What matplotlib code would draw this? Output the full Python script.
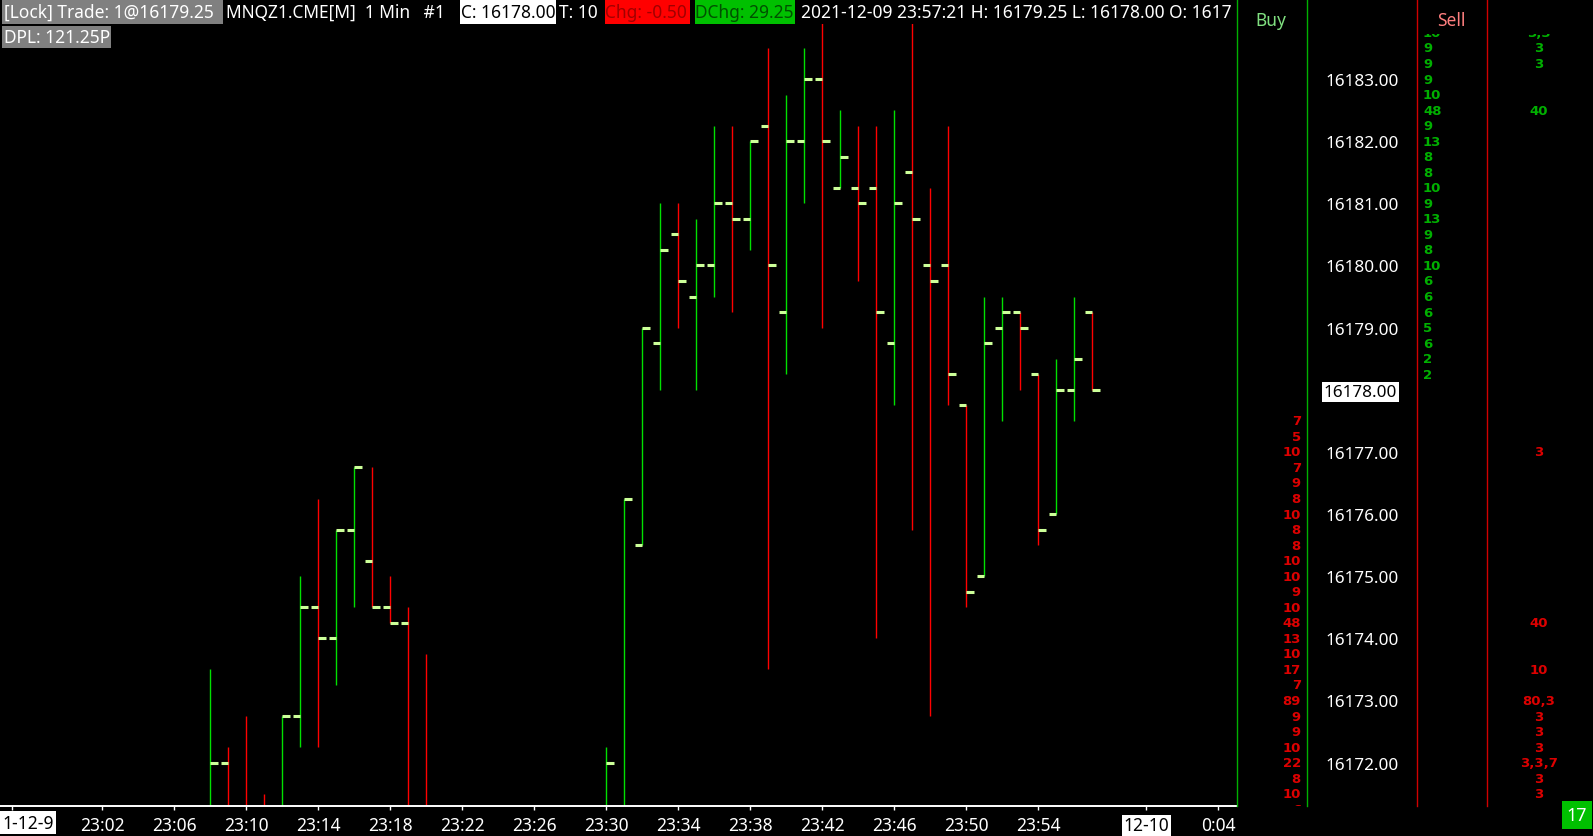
import matplotlib.pyplot as plt
from matplotlib.patches import Rectangle
from matplotlib.transforms import ScaledTranslation

plt.rcParams['font.family'] = ['Noto Sans', 'DejaVu Sans']

W, H, DPI = 1593, 837, 100

# MNQZ1 1-minute bars, x = minutes after 23:00 (2021-12-09)
minute = [8, 9, 10, 11, 12, 13, 14, 15, 16, 17, 18, 19, 20,
          30, 31, 32, 33, 34, 35, 36, 37, 38, 39, 40, 41, 42, 43,
          44, 45, 46, 47, 48, 49, 50, 51, 52, 53, 54, 55, 56, 57]
bar_open = [16171.0, 16172.0, 16171.0, 16171.25, 16170.75, 16172.75, 16174.5, 16174.0, 16175.75, 16175.25, 16174.5, 16174.25, 16171.0,
            16171.0, 16171.0, 16175.5, 16178.75, 16180.5, 16179.5, 16180.0, 16181.0, 16180.75, 16182.25, 16179.25, 16182.0, 16183.0, 16181.25,
            16181.25, 16181.25, 16178.75, 16181.5, 16180.0, 16180.0, 16177.75, 16175.0, 16179.0, 16179.25, 16178.25, 16176.0, 16178.0, 16179.25]
bar_high = [16173.5, 16172.25, 16172.75, 16171.5, 16172.75, 16175.0, 16176.25, 16175.75, 16176.75, 16176.75, 16175.0, 16174.5, 16173.75,
            16172.25, 16176.25, 16179.0, 16181.0, 16181.0, 16180.75, 16182.25, 16182.25, 16182.0, 16183.5, 16182.75, 16183.5, 16184.25, 16182.5,
            16182.25, 16182.25, 16182.5, 16184.25, 16181.25, 16182.25, 16177.75, 16179.5, 16179.5, 16179.25, 16178.25, 16178.5, 16179.5, 16179.25]
bar_low = [16170.5, 16170.75, 16170.25, 16170.5, 16170.5, 16172.25, 16172.25, 16173.25, 16174.5, 16174.5, 16174.25, 16170.75, 16170.25,
           16170.75, 16170.75, 16175.5, 16178.0, 16179.0, 16178.0, 16179.5, 16179.25, 16180.25, 16173.5, 16178.25, 16181.0, 16179.0, 16181.25,
           16179.75, 16174.0, 16177.75, 16175.75, 16172.75, 16177.75, 16174.5, 16175.0, 16177.5, 16178.0, 16175.5, 16176.0, 16177.5, 16178.0]
bar_close = [16172.0, 16171.0, 16170.5, 16170.75, 16172.75, 16174.5, 16174.0, 16175.75, 16176.75, 16174.5, 16174.25, 16171.0, 16170.5,
             16172.0, 16176.25, 16179.0, 16180.25, 16179.75, 16180.0, 16181.0, 16180.75, 16182.0, 16180.0, 16182.0, 16183.0, 16182.0, 16181.75,
             16181.0, 16179.25, 16181.0, 16180.75, 16179.75, 16178.25, 16174.75, 16178.75, 16179.25, 16179.0, 16175.75, 16178.0, 16178.5, 16178.0]

tick_min = [2, 6, 10, 14, 18, 22, 26, 30, 34, 38, 42, 46, 50, 54, 60, 64]
tick_lbl = ['23:02', '23:06', '23:10', '23:14', '23:18', '23:22', '23:26', '23:30',
            '23:34', '23:38', '23:42', '23:46', '23:50', '23:54', '12-10', '0:04']

price_levels = [16183.0, 16182.0, 16181.0, 16180.0, 16179.0, 16177.0, 16176.0,
                16175.0, 16174.0, 16173.0, 16172.0]
last_price = 16178.0

# volume ladder
buy_prices = [16183.75, 16183.5, 16183.25, 16183.0, 16182.75, 16182.5, 16182.25, 16182.0,
              16181.75, 16181.5, 16181.25, 16181.0, 16180.75, 16180.5, 16180.25, 16180.0,
              16179.75, 16179.5, 16179.25, 16179.0, 16178.75, 16178.5, 16178.25]
buy_vol = [10, 9, 9, 9, 10, 48, 9, 13, 8, 8, 10, 9, 13, 9, 8, 10, 6, 6, 6, 5, 6, 2, 2]
sell_prices = [16177.5, 16177.25, 16177.0, 16176.75, 16176.5, 16176.25, 16176.0, 16175.75,
               16175.5, 16175.25, 16175.0, 16174.75, 16174.5, 16174.25, 16174.0, 16173.75,
               16173.5, 16173.25, 16173.0, 16172.75, 16172.5, 16172.25, 16172.0, 16171.75,
               16171.5, 16171.25]
sell_vol = [7, 5, 10, 7, 9, 8, 10, 8, 8, 10, 10, 9, 10, 48, 13, 10, 17, 7, 89, 9, 9, 10, 22, 8, 10, 6]
big_buy_prices = [16183.75, 16183.5, 16183.25, 16182.5]
big_buy = ['3,3', '3', '3', '40']
big_sell_prices = [16177.0, 16174.25, 16173.5, 16173.0, 16172.75, 16172.5, 16172.25,
                   16172.0, 16171.75, 16171.5]
big_sell = ['3', '40', '10', '80,3', '3', '3', '3', '3,3,7', '3', '3']

# pixel calibration of the price scale (16183 at y=80, 62.15 px per point)
def price_at(py):
    return 16183.0 - (py - 80) / 62.15

UP, DN, TICKC = '#00e000', '#ff0000', '#ccff99'
LADDER = dict(family='DejaVu Sans', fontsize=9.5, fontweight='bold', va='center', clip_on=True)

fig = plt.figure(figsize=(W / DPI, H / DPI), dpi=DPI, facecolor='black')

# ---- main bar chart
ax = fig.add_axes([0, (H - 807) / H, 1237 / W, (807 - 25) / H])
ax.set_facecolor('black')
ax.set_xlim(-3.683, 65.04)
ax.set_ylim(price_at(807), price_at(25))
for s in ['top', 'left', 'right']:
    ax.spines[s].set_visible(False)
ax.spines['bottom'].set_color('white')
ax.spines['bottom'].set_linewidth(1.4)
ax.set_yticks([])

cols = [UP if c >= o else DN for o, c in zip(bar_open, bar_close)]
ax.vlines(minute, bar_low, bar_high, colors=cols, lw=1.0)
ax.hlines(bar_open, [m - 0.42 for m in minute], minute, colors=TICKC, lw=2.2, capstyle='butt')
ax.hlines(bar_close, minute, [m + 0.42 for m in minute], colors=TICKC, lw=2.2, capstyle='butt')

ax.set_xticks([-3] + tick_min)
ax.set_xticklabels([''] + tick_lbl)
ax.tick_params(axis='x', colors='white', length=3, width=1, direction='out', pad=4.5, labelsize=12.5)
for lab in ax.get_xticklabels():
    if lab.get_text() == '12-10':
        lab.set_color('black')
        lab.set_bbox(dict(facecolor='white', edgecolor='none', pad=1))

# ---- header line
axh = fig.add_axes([0, (H - 50) / H, 1237 / W, 50 / H])
axh.set_xlim(0, 1237)
axh.set_ylim(50, 0)
axh.axis('off')
boxes = [(2, 1, 221, 24, '#808080'), (460, 1, 96, 24, 'white'), (605, 1, 85, 24, '#ff0000'),
         (695, 1, 100, 24, '#00c000'), (2, 27, 109, 22, '#808080')]
for x0, y0, w, h, c in boxes:
    axh.add_patch(Rectangle((x0, y0), w, h, facecolor=c, edgecolor='none'))
hdr = [(4, 13, '[Lock] Trade: 1@16179.25', 'white'),
       (226, 13, 'MNQZ1.CME[M]  1 Min   #1', 'white'),
       (461, 13, 'C: 16178.00', 'black'),
       (559, 13, 'T: 10', 'white'),
       (605, 13, 'Chg: -0.50', '#a00000'),
       (695, 13, 'DChg: 29.25', '#005000'),
       (801, 13, '2021-12-09 23:57:21 H: 16179.25 L: 16178.00 O: 1617', 'white'),
       (4, 38, 'DPL: 121.25P', 'white')]
for x0, y0, s, c in hdr:
    axh.text(x0, y0, s, color=c, fontsize=12.5, ha='left', va='center', clip_on=True)

# ---- price scale / volume ladder
axr = fig.add_axes([1237 / W, (H - 807) / H, (W - 1237) / W, (807 - 35) / H])
axr.set_xlim(1237, W)
axr.set_ylim(price_at(807), price_at(35))
axr.axis('off')
down2 = axr.transData + ScaledTranslation(0, -2 / DPI, fig.dpi_scale_trans)
for p in price_levels:
    axr.text(1399, p, f'{p:.2f}', color='white', fontsize=12.3, ha='right', va='center',
             clip_on=True, transform=down2)
axr.text(1397, last_price, f'{last_price:.2f}', color='black', fontsize=12.3, ha='right', va='center',
         bbox=dict(facecolor='white', edgecolor='none', pad=1.5), transform=down2)
for p, v in zip(buy_prices, buy_vol):
    axr.text(1423, p, str(v), color='#00b000', ha='left', **LADDER)
for p, v in zip(sell_prices, sell_vol):
    axr.text(1301, p, str(v), color='#dd0000', ha='right', **LADDER)
for p, v in zip(big_buy_prices, big_buy):
    axr.text(1539, p, v, color='#00b000', ha='center', **LADDER)
for p, v in zip(big_sell_prices, big_sell):
    axr.text(1539, p, v, color='#dd0000', ha='center', **LADDER)

# ---- overlay in pixel coords: column borders, headers, corner boxes
axo = fig.add_axes([0, 0, 1, 1])
axo.set_xlim(0, W)
axo.set_ylim(H, 0)
axo.axis('off')
axo.patch.set_alpha(0)
for x, c in [(1237, '#00b000'), (1307, '#00b000'), (1417, '#d00000'), (1487, '#d00000')]:
    axo.plot([x, x], [0, 807], color=c, lw=1)
axo.text(1271, 21, 'Buy', color='#80e080', fontsize=12.5, ha='center', va='center')
axo.text(1451, 21, 'Sell', color='#ff7f7f', fontsize=12.5, ha='center', va='center')
axo.add_patch(Rectangle((1562, 802), 30, 28, facecolor='#00c000', edgecolor='none'))
axo.text(1577, 816, '17', color='white', fontsize=13, ha='center', va='center')
axo.add_patch(Rectangle((0, 812), 56, 23, facecolor='white', edgecolor='none'))
axo.text(28, 824, '1-12-9', color='black', fontsize=12.5, ha='center', va='center')

fig.savefig('out.png', dpi=DPI, facecolor='black')
